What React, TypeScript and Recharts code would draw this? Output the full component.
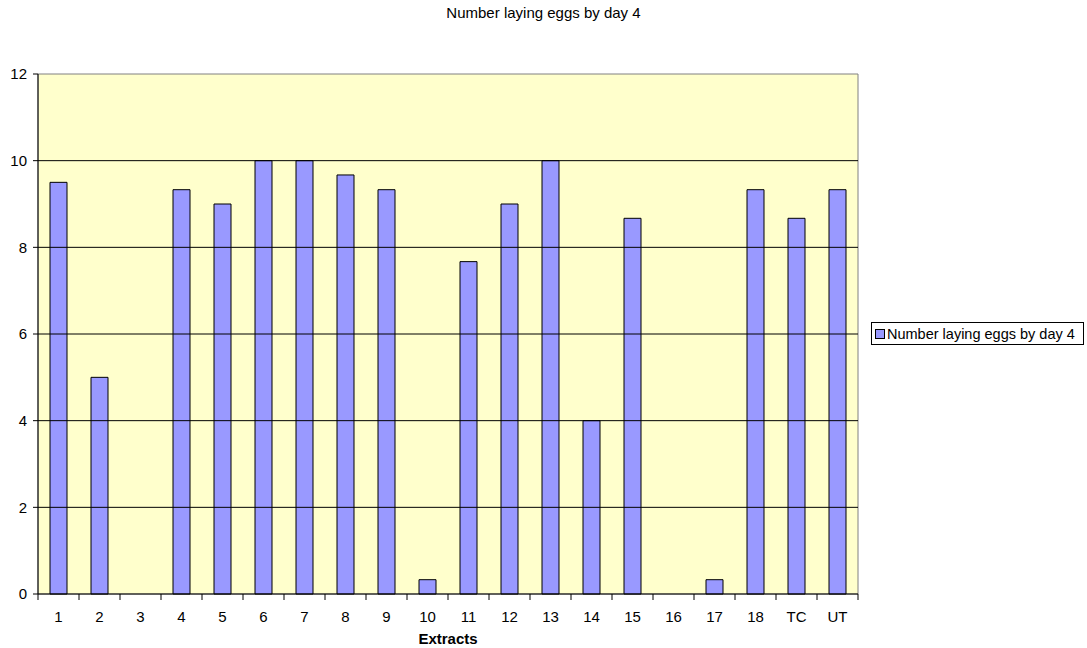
import { BarChart, Bar, XAxis, YAxis, ReferenceArea, ReferenceLine, Label } from "recharts";

const extracts = ["1", "2", "3", "4", "5", "6", "7", "8", "9", "10", "11", "12", "13", "14", "15", "16", "17", "18", "TC", "UT"];
const layingByDay4 = [9.5, 5, 0, 9.33, 9, 10, 10, 9.67, 9.33, 0.33, 7.67, 9, 10, 4, 8.67, 0, 0.33, 9.33, 8.67, 9.33];
const yTicks = [0, 2, 4, 6, 8, 10, 12];

const seriesName = "Number laying eggs by day 4";
const data = extracts.map((name, i) => ({ name, value: layingByDay4[i] }));

const W = 1087;
const H = 648;
const PLOT_LEFT = 38;
const PLOT_RIGHT = 858;
const AXIS_Y = 594;
const band = (PLOT_RIGHT - PLOT_LEFT) / extracts.length;
const font = "'Liberation Sans', Arial, sans-serif";
const FS = 15;

function XTick(props: any) {
  const { x, payload, index } = props;
  const left = x - band / 2;
  return (
    <g>
      <line x1={left} x2={left} y1={AXIS_Y} y2={AXIS_Y + 6} stroke="#000" />
      {index === extracts.length - 1 && (
        <line x1={x + band / 2} x2={x + band / 2} y1={AXIS_Y} y2={AXIS_Y + 6} stroke="#000" />
      )}
      <text x={x} y={AXIS_Y + 28} textAnchor="middle" fontSize={FS} fill="#000" fontFamily={font}>
        {payload.value}
      </text>
    </g>
  );
}

function AxisTitle(props: any) {
  const vb = props.viewBox || { x: PLOT_LEFT, width: PLOT_RIGHT - PLOT_LEFT };
  return (
    <text x={vb.x + vb.width / 2} y={644} textAnchor="middle" fontSize={FS} fontWeight="bold" fill="#000" fontFamily={font}>
      Extracts
    </text>
  );
}

export default function App() {
  return (
    <div style={{ position: "absolute", left: 0, top: 0, width: W, height: H, background: "#fff" }}>
      <div
        style={{
          position: "absolute",
          top: 4,
          left: 0,
          width: W,
          textAlign: "center",
          fontFamily: font,
          fontSize: FS,
          color: "#000",
        }}
      >
        {seriesName}
      </div>
      <BarChart
        width={W}
        height={H}
        data={data}
        margin={{ top: 74, right: W - PLOT_RIGHT, bottom: 0, left: 0 }}
        barCategoryGap={12}
      >
        <ReferenceArea y1={0} y2={12} fill="#FFFFCC" fillOpacity={1} stroke="#808080" ifOverflow="visible" />
        {yTicks
          .filter((t) => t > 0 && t < 12)
          .map((t) => (
            <ReferenceLine key={t} y={t} stroke="#000" />
          ))}
        <XAxis
          dataKey="name"
          height={H - AXIS_Y}
          stroke="#000"
          tickLine={false}
          tick={<XTick />}
          interval={0}
        >
          <Label content={<AxisTitle />} />
        </XAxis>
        <YAxis
          width={PLOT_LEFT}
          domain={[0, 12]}
          ticks={yTicks}
          stroke="#000"
          tickSize={5}
          tickMargin={6}
          tick={{ fontSize: FS, fill: "#000", fontFamily: font }}
        />
        <Bar dataKey="value" name={seriesName} fill="#9999FF" stroke="#000" strokeWidth={1} barSize={17} isAnimationActive={false} />
      </BarChart>
      <div
        style={{
          position: "absolute",
          left: 871,
          top: 322,
          width: 213,
          height: 23,
          border: "1px solid #000",
          boxSizing: "border-box",
          display: "flex",
          alignItems: "center",
          paddingLeft: 3,
          fontFamily: font,
          fontSize: 14.5,
          color: "#000",
          background: "#fff",
          whiteSpace: "nowrap",
        }}
      >
        <span style={{ width: 8, height: 8, background: "#9999FF", border: "1px solid #000", marginRight: 2, display: "inline-block" }} />
        {seriesName}
      </div>
    </div>
  );
}
